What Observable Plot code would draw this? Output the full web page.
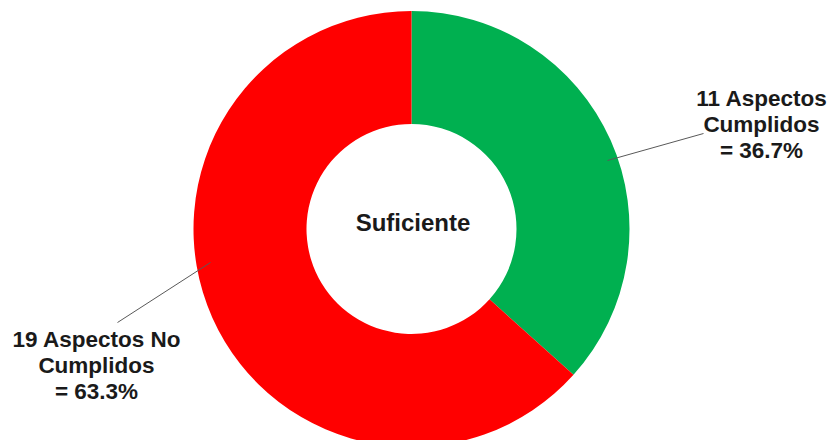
<!DOCTYPE html>
<html>
<head>
<meta charset="utf-8">
<script src="https://cdn.jsdelivr.net/npm/d3@7"></script>
<script src="https://cdn.jsdelivr.net/npm/@observablehq/plot@0.6"></script>
<style>
  html, body { margin: 0; padding: 0; background: #fff; }
  #chart { width: 831px; height: 440px; overflow: hidden; }
</style>
</head>
<body>
<div id="chart"></div>
<script>
// ---- data ----
const categories = ["Aspectos Cumplidos", "Aspectos No Cumplidos"];
const counts = [11, 19];
const percents = [36.7, 63.3];
const sliceLabels = ["11 Aspectos\nCumplidos\n= 36.7%", "19 Aspectos No\nCumplidos\n= 63.3%"];
const centerLabel = "Suficiente";

// ---- style / layout ----
const sliceColors = ["#00b050", "#ff0000"];
const center = {x: 411.5, y: 229};
const outerR = 218, innerR = 105;
const labelPos = [{x: 761, y: 123}, {x: 96, y: 364}];
const leaderLines = [
  {x1: 607, y1: 160, x2: 703, y2: 133},
  {x1: 210, y1: 262, x2: 117, y2: 322}
];

const slices = categories.map((c, i) => ({category: c, count: counts[i], pct: percents[i], label: sliceLabels[i]}));
const colorScale = Plot.scale({color: {type: "ordinal", domain: categories, range: sliceColors}});

const donut = (index, scales) => {
  const cx = scales.x(center.x), cy = scales.y(center.y);
  const ro = scales.x(center.x + outerR) - cx;
  const ri = scales.x(center.x + innerR) - cx;
  const arcs = d3.pie().sort(null).value(d => d.count)(slices);
  const arc = d3.arc().innerRadius(ri).outerRadius(ro);
  const g = d3.create("svg:g").attr("transform", `translate(${cx},${cy})`);
  g.selectAll("path").data(arcs).join("path")
    .attr("d", arc)
    .attr("fill", d => colorScale.apply(d.data.category));
  return g.node();
};

const labelData = slices.map((s, i) => ({...s, ...labelPos[i]}));

const plot = Plot.plot({
  width: 831,
  height: 440,
  margin: 0,
  x: {domain: [0, 831], range: [0, 831], axis: null},
  y: {domain: [0, 440], range: [0, 440], axis: null},
  style: {fontFamily: "'Liberation Sans', Arial, sans-serif", background: "#fff"},
  marks: [
    donut,
    Plot.link(leaderLines, {x1: "x1", y1: "y1", x2: "x2", y2: "y2", stroke: "#595959", strokeWidth: 1}),
    Plot.text(labelData, {x: "x", y: "y", text: "label", fontSize: 22.5, fontWeight: "bold", fill: "#1a1a1a", lineHeight: 1.15, lineAnchor: "middle", textAnchor: "middle"}),
    Plot.text([centerLabel], {x: center.x + 1, y: 223, text: d => d, fontSize: 24, fontWeight: "bold", fill: "#1a1a1a"})
  ]
});
document.getElementById("chart").appendChild(plot);
</script>
</body>
</html>
